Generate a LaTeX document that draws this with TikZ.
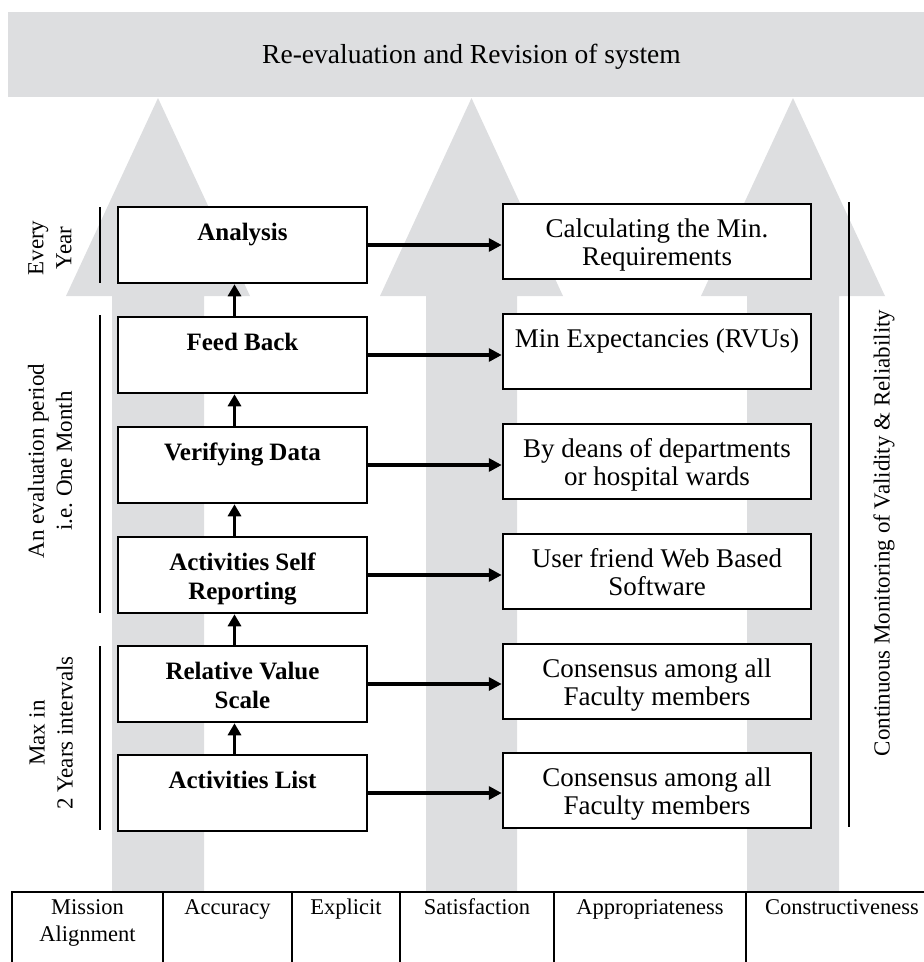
\documentclass[tikz,border=0pt]{standalone}
\usepackage{fontspec}
\setmainfont{Liberation Serif}
\usetikzlibrary{arrows.meta}
\frenchspacing
\definecolor{bandgray}{RGB}{221,222,224}
\definecolor{arrgray}{RGB}{221,222,224}
\newcommand\lefttext[1]{\parbox[c][76pt][t]{249pt}{\centering\fontsize{25}{29}\selectfont\bfseries\rule{0pt}{33pt}#1\par}}
\newcommand\righttext[1]{\parbox[c][75pt][t]{308pt}{\centering\fontsize{27}{28}\selectfont\rule{0pt}{33pt}#1\par}}
\newcommand\celltext[2]{\parbox[t]{#1}{\centering\fontsize{22.5}{27}\selectfont #2\par}}
\begin{document}
\begin{tikzpicture}[x=1pt,y=-1pt,
  lbox/.style={draw,line width=2.5pt,fill=white,inner sep=0pt},
  rbox/.style={draw,line width=2.5pt,fill=white,inner sep=0pt},
  harrow/.style={line width=4pt,-{Triangle[length=13pt,width=13pt]}},
  varrow/.style={line width=3pt,-{Triangle[length=12pt,width=13pt]}},
  sidelabel/.style={rotate=90,align=center,font=\fontsize{23}{28}\selectfont,inner sep=0pt},
  sideline/.style={line width=1.3pt},
  tableline/.style={line width=1.3pt},
  grayarrow/.style={fill=arrgray},
  celltxt/.style={anchor=base,inner sep=0pt}]
\useasboundingbox (0,0) rectangle (924,962);
% top band
\fill[bandgray] (8,12) rectangle (924,97);
\node[anchor=base,inner sep=0pt,font=\fontsize{27.5}{30}\selectfont] (title) at (471.5,63) {Re-evaluation and Revision of system};
% big gray arrows
\fill[grayarrow] (112,892) -- (112,296) -- (66,296) -- (158,98) -- (250,296) -- (204,296) -- (204,892) -- cycle;
\fill[grayarrow] (426,892) -- (426,296) -- (380,296) -- (471.5,98) -- (563,296) -- (517,296) -- (517,892) -- cycle;
\fill[grayarrow] (747,892) -- (747,296) -- (701,296) -- (793,98) -- (885,296) -- (839,296) -- (839,892) -- cycle;
% left boxes
\node[lbox] (an) at (242.5,245) {\lefttext{Analysis}};
\node[lbox] (fb) at (242.5,355) {\lefttext{Feed Back}};
\node[lbox] (vd) at (242.5,465) {\lefttext{Verifying Data}};
\node[lbox] (as) at (242.5,575) {\lefttext{Activities Self\\Reporting}};
\node[lbox] (rv) at (242.5,684) {\lefttext{Relative Value\\Scale}};
\node[lbox] (al) at (242.5,793) {\lefttext{Activities List}};
% right boxes
\node[rbox] (r1) at (657,241.5) {\righttext{Calculating the Min.\\Requirements}};
\node[rbox] (r2) at (657,351.5) {\righttext{Min Expectancies (RVUs)}};
\node[rbox] (r3) at (657,461.5) {\righttext{By deans of departments\\or hospital wards}};
\node[rbox] (r4) at (657,571.5) {\righttext{User friend Web Based\\Software}};
\node[rbox] (r5) at (657,681.5) {\righttext{Consensus among all\\Faculty members}};
\node[rbox] (r6) at (657,790.5) {\righttext{Consensus among all\\Faculty members}};
% horizontal arrows
\draw[harrow] (an.east) -- (an.east -| r1.west);
\draw[harrow] (fb.east) -- (fb.east -| r2.west);
\draw[harrow] (vd.east) -- (vd.east -| r3.west);
\draw[harrow] (as.east) -- (as.east -| r4.west);
\draw[harrow] (rv.east) -- (rv.east -| r5.west);
\draw[harrow] (al.east) -- (al.east -| r6.west);
% vertical arrows
\draw[varrow] ([xshift=-8pt]fb.north) -- ([xshift=-8pt]an.south);
\draw[varrow] ([xshift=-8pt]vd.north) -- ([xshift=-8pt]fb.south);
\draw[varrow] ([xshift=-8pt]as.north) -- ([xshift=-8pt]vd.south);
\draw[varrow] ([xshift=-8pt]rv.north) -- ([xshift=-8pt]as.south);
\draw[varrow] ([xshift=-8pt]al.north) -- ([xshift=-8pt]rv.south);
% side brackets and labels
\draw[sideline] (100,207) -- (100,283);
\draw[sideline] (100,315) -- (100,613);
\draw[sideline] (100,646) -- (100,830);
\node[sidelabel] (l1) at (50,248) {Every\\Year};
\node[sidelabel] (l2) at (50,461) {An evaluation period\\i.e. One Month};
\node[sidelabel] (l3) at (51,733) {Max in\\2 Years intervals};
\draw[sideline] (849,202) -- (849,827);
\node[sidelabel] (l4) at (884,533) {Continuous Monitoring of Validity \& Reliability};
% bottom table
\draw[tableline] (12,962) -- (12,892) -- (924,892);
\foreach \xx in {163,292,400,554,746} \draw[tableline] (\xx,892) -- (\xx,962);
\node[celltxt] (t1) at (87.5,914) {\celltext{140pt}{Mission\\Alignment}};
\node[celltxt] (t2) at (227.5,914) {\celltext{120pt}{Accuracy}};
\node[celltxt] (t3) at (346,914) {\celltext{100pt}{Explicit}};
\node[celltxt] (t4) at (477,914) {\celltext{140pt}{Satisfaction}};
\node[celltxt] (t5) at (650,914) {\celltext{180pt}{Appropriateness}};
\node[celltxt] (t6) at (842,914) {\celltext{175pt}{Constructiveness}};
\end{tikzpicture}
\end{document}
